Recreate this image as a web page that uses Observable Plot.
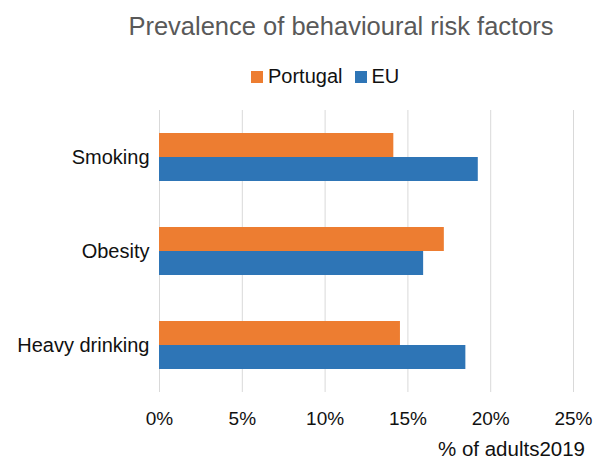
<!DOCTYPE html>
<html>
<head>
<meta charset="utf-8">
<script src="https://cdn.jsdelivr.net/npm/d3@7"></script>
<script src="https://cdn.jsdelivr.net/npm/@observablehq/plot@0.6"></script>
<style>
  html, body { margin: 0; padding: 0; background: #fff; }
  #wrap { position: relative; width: 606px; height: 462px; overflow: hidden;
          font-family: "Liberation Sans", Arial, sans-serif; }
  #title { position: absolute; top: 14px; left: 341px; transform: translateX(-50%);
           white-space: nowrap; font-size: 25.5px; line-height: 1; color: #595959; }
  #legend { position: absolute; top: 66.4px; left: 251px; white-space: nowrap;
            font-size: 20px; line-height: 1; color: #111; }
  #legend .sw { display: inline-block; width: 12px; height: 12px; vertical-align: baseline; margin-right: 5px; }
  #legend .item { display: inline-block; }
  #legend .item + .item { margin-left: 12px; }
  #xlabel { position: absolute; top: 441px; right: 21px; white-space: nowrap;
            font-size: 20.5px; line-height: 16px; height: 16px; color: #111; }
</style>
</head>
<body>
<div id="wrap">
  <div id="chart"></div>
  <div id="title"></div>
  <div id="legend"></div>
  <div id="xlabel"></div>
</div>
<script>
const titleText = "Prevalence of behavioural risk factors";
const xLabelText = "% of adults2019";
const categories = ["Smoking", "Obesity", "Heavy drinking"];
const series = ["Portugal", "EU"];
const portugalValues = [14.15, 17.2, 14.55];
const euValues = [19.25, 15.95, 18.5];
const xTicks = [0, 5, 10, 15, 20, 25];
const seriesColors = ["#ED7D31", "#2E75B6"];

const rows = [];
categories.forEach((c, i) => {
  rows.push({category: c, series: series[0], value: portugalValues[i]});
  rows.push({category: c, series: series[1], value: euValues[i]});
});

document.getElementById("title").textContent = titleText;
document.getElementById("xlabel").textContent = xLabelText;
const legend = document.getElementById("legend");
series.forEach((s, i) => {
  const item = document.createElement("span");
  item.className = "item";
  const sw = document.createElement("span");
  sw.className = "sw";
  sw.style.background = seriesColors[i];
  item.appendChild(sw);
  item.appendChild(document.createTextNode(s));
  legend.appendChild(item);
});

const chart = Plot.plot({
  width: 606,
  height: 462,
  marginTop: 109,
  marginBottom: 69,
  marginLeft: 159,
  marginRight: 33,
  style: {fontFamily: "'Liberation Sans', Arial, sans-serif", fontSize: "19px", color: "#111", background: "transparent"},
  x: {domain: [0, 25]},
  y: {domain: series, paddingInner: 0, paddingOuter: 0.893, axis: null},
  fy: {domain: categories, padding: 0},
  color: {domain: series, range: seriesColors},
  marks: [
    Plot.gridX({ticks: xTicks, stroke: "#d9d9d9", strokeOpacity: 1, strokeWidth: 1}),
    Plot.barX(rows, {x: "value", y: "series", fy: "category", fill: "series", insetTop: 0, insetBottom: 0}),
    Plot.axisX({ticks: xTicks, tickFormat: d => d + "%", tickSize: 0, tickPadding: 19, label: null, fontSize: 19}),
    Plot.axisFy({anchor: "left", tickSize: 0, tickPadding: 10, label: null, fontSize: 20})
  ]
});
document.getElementById("chart").appendChild(chart);
</script>
</body>
</html>
